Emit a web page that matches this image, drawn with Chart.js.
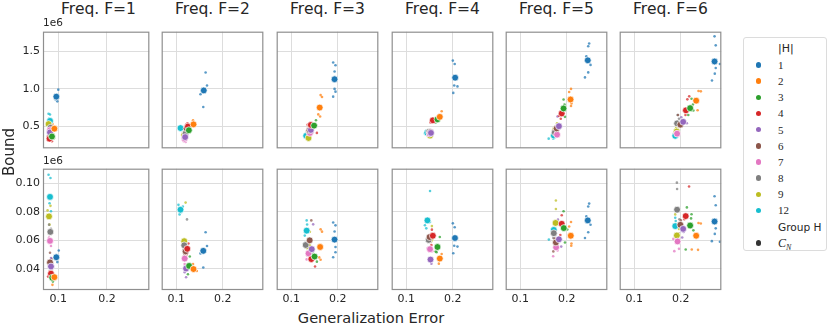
<!DOCTYPE html>
<html>
<head>
<meta charset="utf-8">
<script src="https://cdn.jsdelivr.net/npm/chart.js@4.4.1/dist/chart.umd.min.js"></script>
<style>
  body { margin: 0; background: #fff; width: 830px; height: 328px; overflow: hidden; position: relative;
         font-family: 'DejaVu Sans', sans-serif; color: #262626; }
  .abs { position: absolute; }
  .title { position: absolute; top: 0; width: 111px; text-align: center; font-size: 15.5px; line-height: 18px; white-space: nowrap; }
  .offset { position: absolute; left: 43px; font-size: 10.5px; line-height: 12px; }
  .legend { position: absolute; left: 743px; top: 37px; width: 84px; height: 214px; border: 1px solid #dcdcdc; border-radius: 3px; padding-top: 2.6px; box-sizing: border-box; }
  .row { position: relative; height: 16.2px; line-height: 16.2px; }
  .dot { position: absolute; left: 12px; top: 5.4px; width: 5.4px; height: 5.4px; border-radius: 50%; }
  .lab { position: absolute; left: 34px; white-space: nowrap; }
  .num { font-family: 'Liberation Serif', serif; font-size: 11px; }
  .sans { font-size: 10.6px; }
</style>
</head>
<body>
<script>
// |H| groups and colours (tab10)
const groups = ['1', '2', '3', '4', '5', '6', '7', '8', '9', '12'];
const palette = ['#1f77b4', '#ff7f0e', '#2ca02c', '#d62728', '#9467bd', '#8c564b', '#e377c2', '#7f7f7f', '#bcbd22', '#17becf'];
const freqs = [1, 2, 3, 4, 5, 6];

const xTicks = [0.1, 0.2];
const topTicks = [0.5, 1.0, 1.5];
const botTicks = [0.04, 0.06, 0.08, 0.10];
const xRange = [0.0686, 0.287];
const topRange = [0.204, 1.766];
const botRange = [0.0251, 0.1103];

// big points (C_N), one [error, bound] per group, bound in units of 1e6
const topMeanF1 = [[0.096,0.896],[0.092,0.467],[0.087,0.362],[0.082,0.333],[0.083,0.417],[0.083,0.362],[0.083,0.446],[0.084,0.479],[0.080,0.529],[0.083,0.571]];
const topMeanF2 = [[0.159,0.979],[0.137,0.525],[0.127,0.446],[0.125,0.496],[0.119,0.354],[0.122,0.471],[0.118,0.333],[0.120,0.404],[0.117,0.383],[0.109,0.475]];
const topMeanF3 = [[0.193,1.129],[0.161,0.750],[0.149,0.508],[0.142,0.517],[0.142,0.450],[0.139,0.446],[0.140,0.410],[0.138,0.430],[0.137,0.342],[0.132,0.371]];
const topMeanF4 = [[0.205,1.150],[0.172,0.625],[0.167,0.592],[0.157,0.579],[0.153,0.410],[0.152,0.420],[0.150,0.400],[0.149,0.425],[0.151,0.375],[0.145,0.412]];
const topMeanF5 = [[0.245,1.383],[0.208,0.858],[0.193,0.738],[0.189,0.671],[0.183,0.500],[0.178,0.470],[0.179,0.387],[0.174,0.417],[0.175,0.450],[0.172,0.375]];
const topMeanF6 = [[0.2725,1.367],[0.233,0.842],[0.220,0.742],[0.211,0.713],[0.205,0.558],[0.199,0.521],[0.192,0.400],[0.192,0.538],[0.191,0.429],[0.188,0.371]];

const botMeanF1 = [[0.096,0.0481],[0.092,0.0341],[0.0876,0.0337],[0.085,0.0366],[0.085,0.0416],[0.083,0.0445],[0.083,0.0596],[0.0837,0.0659],[0.081,0.0768],[0.083,0.0905]];
const botMeanF2 = [[0.158,0.0526],[0.137,0.0398],[0.1275,0.0420],[0.1235,0.0540],[0.121,0.0402],[0.120,0.0522],[0.118,0.0472],[0.117,0.0565],[0.117,0.0594],[0.109,0.0815]];
const botMeanF3 = [[0.193,0.0605],[0.162,0.0553],[0.150,0.0486],[0.143,0.0468],[0.144,0.0538],[0.1395,0.0600],[0.137,0.0508],[0.131,0.0567],[0.136,0.0558],[0.133,0.0668]];
const botMeanF4 = [[0.2046,0.0616],[0.172,0.0472],[0.167,0.0553],[0.157,0.0632],[0.152,0.0465],[0.150,0.0623],[0.151,0.0538],[0.148,0.0603],[0.1513,0.0607],[0.1454,0.0740]];
const botMeanF5 = [[0.245,0.0740],[0.2085,0.0632],[0.1935,0.0686],[0.189,0.0716],[0.183,0.0607],[0.1765,0.0585],[0.177,0.0551],[0.172,0.0650],[0.1758,0.0722],[0.172,0.0673]];
const botMeanF6 = [[0.2725,0.0732],[0.233,0.0632],[0.220,0.0704],[0.2105,0.0770],[0.205,0.0680],[0.199,0.0709],[0.193,0.0592],[0.192,0.0815],[0.1915,0.0634],[0.188,0.0700]];

// single runs: [group index, error, bound]
const topRunsF1 = [[0,0.100,0.99],[0,0.098,0.833],[0,0.094,0.86],[9,0.080,0.667],[9,0.083,0.656],[9,0.081,0.6],[8,0.079,0.55],[8,0.082,0.5],
  [1,0.088,0.53],[1,0.094,0.46],[1,0.090,0.44],[7,0.081,0.47],[7,0.086,0.49],[6,0.081,0.43],[6,0.085,0.41],[4,0.082,0.40],[4,0.086,0.39],
  [2,0.089,0.36],[2,0.091,0.34],[3,0.079,0.31],[3,0.087,0.30],[3,0.082,0.32],[5,0.080,0.35],[5,0.086,0.37]];
const topRunsF2 = [[0,0.163,1.22],[0,0.166,1.046],[0,0.152,0.929],[0,0.158,0.758],[1,0.136,0.58],[1,0.140,0.52],[1,0.134,0.54],
  [3,0.124,0.54],[3,0.121,0.52],[3,0.127,0.47],[2,0.130,0.46],[2,0.125,0.42],[2,0.129,0.49],[9,0.111,0.49],[9,0.107,0.47],
  [8,0.114,0.39],[8,0.119,0.36],[6,0.116,0.30],[6,0.120,0.29],[6,0.122,0.32],[4,0.121,0.34],[4,0.116,0.35],[7,0.118,0.42],[7,0.122,0.39],
  [5,0.124,0.48],[5,0.119,0.45]];
const topRunsF3 = [[0,0.190,1.354],[0,0.195,1.317],[0,0.193,1.233],[0,0.195,0.963],[0,0.193,1.0],[0,0.190,0.896],
  [1,0.163,0.917],[1,0.166,0.892],[1,0.158,0.658],[1,0.162,0.63],[2,0.153,0.58],[2,0.146,0.54],[3,0.135,0.52],[3,0.155,0.41],[3,0.145,0.49],
  [4,0.137,0.47],[4,0.146,0.42],[5,0.136,0.43],[5,0.141,0.40],[6,0.137,0.39],[6,0.134,0.36],[7,0.134,0.44],[7,0.140,0.46],
  [8,0.139,0.32],[8,0.134,0.33],[9,0.131,0.39],[9,0.130,0.35]];
const topRunsF4 = [[0,0.200,1.379],[0,0.204,1.333],[0,0.203,1.046],[0,0.210,1.033],[0,0.201,0.946],
  [1,0.176,0.70],[1,0.170,0.64],[1,0.174,0.60],[2,0.163,0.55],[2,0.161,0.57],[2,0.169,0.60],[3,0.155,0.60],[3,0.152,0.55],
  [9,0.140,0.40],[9,0.143,0.43],[8,0.153,0.35],[8,0.149,0.36],[6,0.148,0.39],[6,0.146,0.42],[5,0.154,0.43],[5,0.151,0.44],
  [7,0.147,0.44],[4,0.155,0.40],[4,0.152,0.38]];
const topRunsF5 = [[0,0.248,1.608],[0,0.246,1.571],[0,0.242,1.438],[0,0.251,1.321],[0,0.246,1.221],[0,0.239,1.154],
  [1,0.209,1.0],[1,0.205,0.958],[1,0.210,0.804],[1,0.209,0.77],[2,0.193,0.858],[2,0.195,0.79],[2,0.196,0.625],
  [3,0.191,0.735],[3,0.187,0.60],[3,0.183,0.64],[4,0.180,0.629],[4,0.186,0.52],[4,0.182,0.46],[8,0.179,0.54],[8,0.176,0.48],
  [6,0.181,0.40],[6,0.176,0.36],[9,0.161,0.333],[9,0.171,0.333],[7,0.173,0.43],[5,0.180,0.47],[5,0.177,0.44]];
const topRunsF6 = [[0,0.2725,1.704],[0,0.275,1.583],[0,0.275,1.279],[0,0.273,1.204],[0,0.267,1.113],[0,0.284,1.333],
  [1,0.238,0.971],[1,0.243,0.967],[1,0.236,0.713],[2,0.223,0.867],[2,0.227,0.71],[2,0.216,0.65],[2,0.226,0.79],
  [3,0.218,0.90],[3,0.214,0.86],[3,0.210,0.65],[4,0.201,0.62],[4,0.213,0.54],[4,0.208,0.58],[5,0.203,0.58],[5,0.194,0.65],
  [7,0.193,0.65],[7,0.196,0.60],[8,0.190,0.48],[8,0.195,0.45],[9,0.187,0.42],[9,0.190,0.39],[6,0.185,0.40],[6,0.194,0.37]];

const botRunsF1 = [[9,0.080,0.106],[9,0.084,0.1038],[9,0.082,0.086],[9,0.085,0.0804],[8,0.078,0.081],[8,0.084,0.0842],[8,0.082,0.071],
  [7,0.081,0.071],[7,0.085,0.068],[7,0.083,0.067],[6,0.081,0.062],[6,0.085,0.056],[0,0.101,0.0528],[0,0.098,0.0447],
  [5,0.083,0.0513],[5,0.086,0.047],[4,0.085,0.0475],[4,0.087,0.040],[3,0.079,0.0345],[3,0.082,0.038],[3,0.086,0.0395],
  [2,0.089,0.031],[2,0.086,0.0325],[1,0.088,0.0287],[1,0.094,0.0345],[1,0.091,0.0335]];
const botRunsF2 = [[9,0.1046,0.0849],[9,0.114,0.0838],[9,0.111,0.0798],[9,0.107,0.0782],
  [0,0.163,0.0657],[0,0.166,0.0560],[0,0.152,0.0508],[0,0.158,0.0409],[7,0.123,0.0747],[8,0.120,0.0865],
  [1,0.144,0.0384],[1,0.136,0.0433],[3,0.126,0.0578],[3,0.122,0.050],[6,0.116,0.0473],[6,0.118,0.0434],
  [2,0.129,0.0486],[2,0.125,0.0362],[4,0.121,0.0341],[4,0.118,0.0376],[5,0.121,0.0515],[5,0.117,0.0495],[8,0.116,0.0565],[7,0.115,0.0530]];
const botRunsF3 = [[0,0.190,0.0725],[0,0.195,0.0705],[0,0.193,0.0662],[0,0.195,0.0553],[0,0.195,0.0516],[0,0.190,0.0481],
  [9,0.133,0.0740],[9,0.134,0.0711],[9,0.129,0.0633],[1,0.163,0.0677],[1,0.166,0.0661],[1,0.160,0.0480],[1,0.163,0.0464],
  [3,0.151,0.0416],[3,0.143,0.0453],[5,0.143,0.0740],[4,0.147,0.0712],[7,0.130,0.0571],[7,0.128,0.0560],
  [6,0.135,0.0491],[6,0.133,0.0466],[2,0.155,0.0450],[2,0.147,0.0505],[8,0.140,0.0660],[8,0.137,0.0610]];
const botRunsF4 = [[9,0.151,0.0946],[9,0.140,0.0706],[9,0.143,0.0684],[9,0.151,0.0729],
  [0,0.200,0.0719],[0,0.204,0.0692],[0,0.203,0.0562],[0,0.210,0.0556],[0,0.201,0.0509],
  [2,0.172,0.0623],[2,0.163,0.0521],[2,0.165,0.0517],[1,0.176,0.0504],[1,0.170,0.0436],[3,0.155,0.0675],[3,0.154,0.0567],
  [6,0.146,0.0545],[6,0.156,0.0523],[4,0.154,0.0436],[7,0.146,0.0610],[5,0.153,0.0590],[8,0.155,0.0700]];
const botRunsF5 = [[0,0.248,0.0858],[0,0.246,0.0838],[0,0.242,0.0768],[0,0.251,0.0709],[0,0.246,0.0657],[0,0.239,0.0616],
  [8,0.1765,0.0880],[8,0.1765,0.0820],[3,0.189,0.0776],[3,0.186,0.0637],[2,0.193,0.0804],[2,0.201,0.0676],[2,0.196,0.0585],
  [1,0.209,0.0729],[1,0.205,0.0697],[1,0.210,0.0578],[1,0.2095,0.0562],[4,0.181,0.0745],[4,0.188,0.0556],
  [5,0.171,0.0522],[5,0.174,0.0612],[6,0.1706,0.0488],[6,0.180,0.0529],[9,0.1614,0.0605],[9,0.170,0.0660],[7,0.171,0.0616],[7,0.176,0.0640]];
const botRunsF6 = [[7,0.1915,0.1005],[7,0.192,0.0960],[7,0.197,0.0748],[3,0.2177,0.0978],[3,0.221,0.0713],[3,0.2075,0.0748],
  [2,0.213,0.0831],[2,0.223,0.0783],[2,0.222,0.0754],[2,0.2105,0.0535],[2,0.227,0.0670],
  [0,0.2725,0.0910],[0,0.275,0.0846],[0,0.275,0.0684],[0,0.273,0.0645],[0,0.2667,0.0594],[0,0.284,0.0590],
  [1,0.238,0.0722],[1,0.243,0.0718],[1,0.2235,0.0535],[1,0.237,0.0533],[4,0.206,0.0658],[4,0.203,0.0620],
  [6,0.186,0.0524],[6,0.196,0.0540],[6,0.184,0.0610],[9,0.188,0.0759],[9,0.189,0.0736],[8,0.188,0.0782],[8,0.196,0.0680],
  [5,0.200,0.0740],[5,0.195,0.0650]];

const topMeans = [topMeanF1, topMeanF2, topMeanF3, topMeanF4, topMeanF5, topMeanF6];
const botMeans = [botMeanF1, botMeanF2, botMeanF3, botMeanF4, botMeanF5, botMeanF6];
const topRuns = [topRunsF1, topRunsF2, topRunsF3, topRunsF4, topRunsF5, topRunsF6];
const botRuns = [botRunsF1, botRunsF2, botRunsF3, botRunsF4, botRunsF5, botRunsF6];

// layout
const colLeft = [43, 157, 272, 387, 501, 615];
const panelW = 111;
const rowTop = [27, 164];
const panelH = 126;
const xAxisH = 18;

// spines on all four sides
const frame = {
  id: 'frame',
  afterDatasetsDraw(chart) {
    const a = chart.chartArea, ctx = chart.ctx;
    ctx.save();
    ctx.strokeStyle = '#8f8f8f';
    ctx.lineWidth = 1.2;
    ctx.strokeRect(a.left + 0.5, a.top + 0.5, a.right - a.left - 1, a.bottom - a.top - 1);
    ctx.restore();
  }
};

function makePanel(row, c) {
  const means = row ? botMeans[c] : topMeans[c];
  const runs = row ? botRuns[c] : topRuns[c];
  const yTicks = row ? botTicks : topTicks;
  const yRange = row ? botRange : topRange;
  const datasets = [];
  groups.forEach((g, i) => {
    datasets.push({
      label: g,
      data: runs.filter(r => r[0] === i).map(r => ({ x: r[1], y: r[2] })),
      backgroundColor: palette[i] + 'bb',
      borderWidth: 0,
      pointRadius: 1.3,
      order: 1
    });
  });
  groups.forEach((g, i) => {
    datasets.push({
      label: g + ' C_N',
      data: [{ x: means[i][0], y: means[i][1] }],
      backgroundColor: palette[i],
      borderColor: '#ffffff',
      borderWidth: 0.7,
      pointRadius: 3.4,
      order: 0
    });
  });

  const canvas = document.createElement('canvas');
  const left = c === 0 ? 0 : colLeft[c];
  const w = c === 0 ? colLeft[0] + panelW : panelW;
  const h = row ? panelH + xAxisH : panelH;
  canvas.width = w;
  canvas.height = h;
  canvas.className = 'abs';
  canvas.style.left = left + 'px';
  canvas.style.top = rowTop[row] + 'px';
  canvas.style.width = w + 'px';
  canvas.style.height = h + 'px';
  document.body.appendChild(canvas);

  new Chart(canvas, {
    type: 'scatter',
    data: { datasets },
    plugins: [frame],
    options: {
      responsive: false,
      animation: false,
      devicePixelRatio: 1,
      layout: { padding: 0 },
      plugins: { legend: { display: false }, tooltip: { enabled: false } },
      scales: {
        x: {
          type: 'linear', min: xRange[0], max: xRange[1],
          grid: { color: '#dddddd', lineWidth: 1, drawTicks: false },
          border: { display: false },
          ticks: {
            display: row === 1, padding: 3, color: '#262626',
            font: { family: 'DejaVu Sans', size: 11 },
            callback: v => v.toFixed(1)
          },
          afterBuildTicks: s => { s.ticks = xTicks.map(v => ({ value: v })); },
          afterFit: s => { s.height = row ? xAxisH : 0; s.paddingLeft = 0; s.paddingRight = 0; }
        },
        y: {
          type: 'linear', min: yRange[0], max: yRange[1],
          grid: { color: '#dddddd', lineWidth: 1, drawTicks: false },
          border: { display: false },
          ticks: {
            display: c === 0, padding: 3, color: '#262626',
            font: { family: 'DejaVu Sans', size: 11 },
            callback: v => v.toFixed(row ? 2 : 1)
          },
          afterBuildTicks: s => { s.ticks = yTicks.map(v => ({ value: v })); },
          afterFit: s => { s.width = c === 0 ? colLeft[0] : 0; s.paddingTop = 0; s.paddingBottom = 0; }
        }
      }
    }
  });
}

// titles
freqs.forEach((f, c) => {
  const t = document.createElement('div');
  t.className = 'title';
  t.style.left = colLeft[c] + 'px';
  t.textContent = 'Freq. F=' + f;
  document.body.appendChild(t);
});

[0, 1].forEach(row => freqs.forEach((f, c) => makePanel(row, c)));

// offset labels
[16, 154].forEach(top => {
  const o = document.createElement('div');
  o.className = 'offset';
  o.style.top = top + 'px';
  o.textContent = '1e6';
  document.body.appendChild(o);
});

// axis labels
const yl = document.createElement('div');
yl.className = 'abs';
yl.style.cssText += 'left:-21px;top:143px;width:60px;height:18px;line-height:18px;text-align:center;font-size:15px;transform:rotate(-90deg);';
yl.textContent = 'Bound';
document.body.appendChild(yl);

const xl = document.createElement('div');
xl.className = 'abs';
xl.style.cssText += 'left:271px;top:309px;width:200px;line-height:17px;text-align:center;font-size:14.6px;white-space:nowrap;';
xl.textContent = 'Generalization Error';
document.body.appendChild(xl);

// legend
const lg = document.createElement('div');
lg.className = 'legend';
let html = '<div class="row"><span class="lab sans" style="font-size:11px">|H|</span></div>';
groups.forEach((g, i) => {
  html += '<div class="row"><span class="dot" style="background:' + palette[i] + '"></span><span class="lab num">' + g + '</span></div>';
});
html += '<div class="row"><span class="lab sans">Group H</span></div>';
html += '<div class="row"><span class="dot" style="background:#333"></span><span class="lab num"><i style="font-size:12px">C</i><sub style="font-size:8px;font-style:italic">N</sub></span></div>';
lg.innerHTML = html;
document.body.appendChild(lg);
</script>
</body>
</html>
